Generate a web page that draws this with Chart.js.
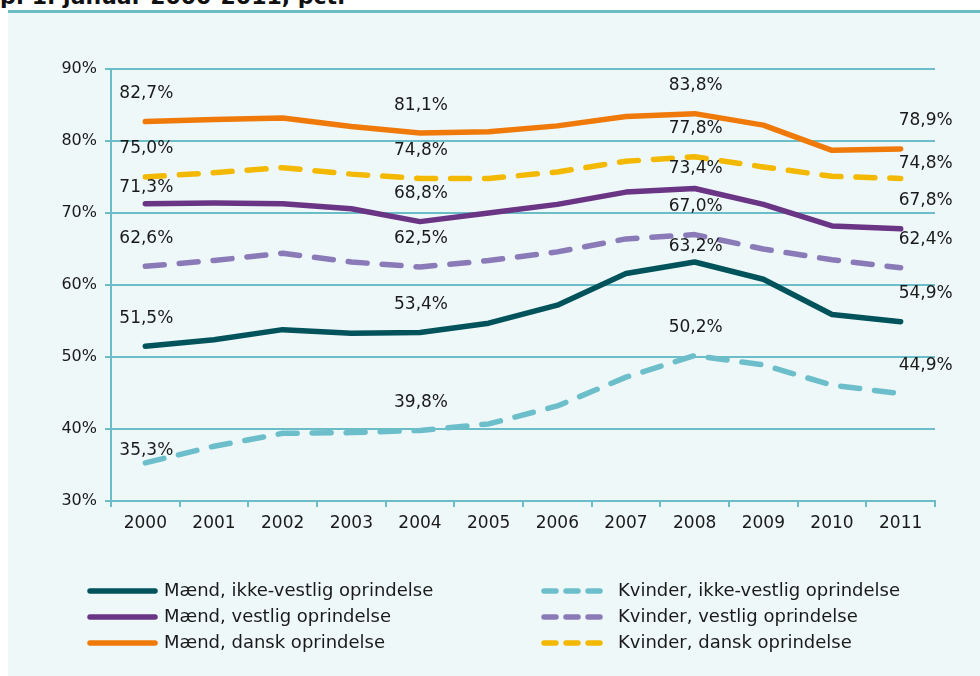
<!DOCTYPE html>
<html>
<head>
<meta charset="utf-8">
<script src="https://cdn.jsdelivr.net/npm/chart.js@4.4.1/dist/chart.umd.min.js"></script>
<style>
  body { margin: 0; background: #fff; width: 980px; height: 676px; overflow: hidden; position: relative; }
  #titel { position: absolute; left: 0; top: -14px; font: bold 22px "DejaVu Sans"; line-height: 22px; color: #111; white-space: nowrap; }
  #streg { position: absolute; left: 8px; top: 10px; width: 972px; height: 3px; background: #6bbec8; }
  #panel { position: absolute; left: 8px; top: 13px; width: 972px; height: 663px; background: #eef8f9; }
</style>
</head>
<body>
<div id="titel">p. 1. januar 2000-2011, pct.</div>
<div id="streg"></div>
<div id="panel"><canvas id="graf" width="972" height="663"></canvas></div>
<script>
// år og beskæftigelsesfrekvenser (pct.)
const aar = ["2000","2001","2002","2003","2004","2005","2006","2007","2008","2009","2010","2011"];
const maendIkkeVestlig   = [51.5, 52.4, 53.8, 53.3, 53.4, 54.7, 57.2, 61.6, 63.2, 60.8, 55.9, 54.9];
const maendVestlig       = [71.3, 71.4, 71.3, 70.6, 68.8, 70.0, 71.2, 72.9, 73.4, 71.2, 68.2, 67.8];
const maendDansk         = [82.7, 83.0, 83.2, 82.0, 81.1, 81.3, 82.1, 83.4, 83.8, 82.2, 78.7, 78.9];
const kvinderIkkeVestlig = [35.3, 37.6, 39.4, 39.5, 39.8, 40.7, 43.2, 47.2, 50.2, 48.9, 46.1, 44.9];
const kvinderVestlig     = [62.6, 63.4, 64.4, 63.2, 62.5, 63.4, 64.6, 66.4, 67.0, 65.0, 63.5, 62.4];
const kvinderDansk       = [75.0, 75.6, 76.3, 75.4, 74.8, 74.8, 75.7, 77.2, 77.8, 76.4, 75.1, 74.8];
const yMin = 30, yMax = 90, yStep = 10;
const aarMedLabel = ["2000", "2004", "2008", "2011"];

const teal = "#6bbec8";
const tekst = "#1a1a1a";
const fmt = v => v.toFixed(1).replace(".", ",") + "%";

function serie(label, data, farve, stiplet) {
  return {
    label: label,
    data: data,
    borderColor: farve,
    backgroundColor: farve,
    borderWidth: 5.5,
    borderDash: stiplet ? [19, 15] : [],
    borderCapStyle: "round",
    borderJoinStyle: "round",
    pointRadius: 0,
    tension: 0,
    fill: false
  };
}

// lidt forskudte labels hvor de ellers ville overlappe
const labelJuster = {
  "Kvinder, dansk oprindelse|2011": -15,
  "Mænd, vestlig oprindelse|2000": -16,
  "Mænd, vestlig oprindelse|2008": -20,
  "Mænd, ikke-vestlig oprindelse|2008": -15,
  "Kvinder, ikke-vestlig oprindelse|2000": -12
};

const dataLabels = {
  id: "dataLabels",
  afterDatasetsDraw(chart) {
    const ctx = chart.ctx;
    ctx.save();
    ctx.font = "17px 'DejaVu Sans'";
    ctx.fillStyle = tekst;
    ctx.textAlign = "center";
    ctx.textBaseline = "middle";
    chart.data.datasets.forEach((ds, di) => {
      const meta = chart.getDatasetMeta(di);
      aar.forEach((a, i) => {
        if (!aarMedLabel.includes(a)) return;
        const p = meta.data[i];
        const dy = labelJuster[ds.label + "|" + a] ?? -28;
        const dx = i === aar.length - 1 ? 25 : 1;
        ctx.fillText(fmt(ds.data[i]), p.x + dx, p.y + dy);
      });
    });
    ctx.restore();
  }
};

// forklaring i to kolonner: mænd til venstre, kvinder til højre
const forklaring = {
  id: "forklaring",
  afterDraw(chart) {
    const ctx = chart.ctx;
    ctx.save();
    ctx.font = "18px 'DejaVu Sans'";
    ctx.textBaseline = "middle";
    ctx.textAlign = "left";
    chart.data.datasets.forEach((ds, di) => {
      const kol = Math.floor(di / 3), rk = di % 3;
      const y = 578 + rk * 26;
      const x0 = kol === 0 ? 79 : 533;
      const x1 = kol === 0 ? 150 : 597;
      const tx = kol === 0 ? 156 : 610;
      ctx.strokeStyle = ds.borderColor;
      ctx.lineWidth = 5.5;
      ctx.lineCap = "round";
      ctx.setLineDash(ds.borderDash.length ? [12, 10] : []);
      ctx.beginPath();
      ctx.moveTo(x0 + 3, y);
      ctx.lineTo(x1 - 3, y);
      ctx.stroke();
      ctx.setLineDash([]);
      ctx.fillStyle = tekst;
      ctx.fillText(ds.label, tx, y);
    });
    ctx.restore();
  }
};

new Chart(document.getElementById("graf").getContext("2d"), {
  type: "line",
  data: {
    labels: aar,
    datasets: [
      serie("Mænd, ikke-vestlig oprindelse", maendIkkeVestlig, "#00535b", false),
      serie("Mænd, vestlig oprindelse", maendVestlig, "#6b3586", false),
      serie("Mænd, dansk oprindelse", maendDansk, "#ef7a0a", false),
      serie("Kvinder, ikke-vestlig oprindelse", kvinderIkkeVestlig, "#6cbfca", true),
      serie("Kvinder, vestlig oprindelse", kvinderVestlig, "#8a7bb8", true),
      serie("Kvinder, dansk oprindelse", kvinderDansk, "#f3b800", true)
    ]
  },
  options: {
    responsive: false,
    animation: false,
    layout: { padding: { top: 56, right: 45, left: 0, bottom: 0 } },
    plugins: { legend: { display: false }, tooltip: { enabled: false } },
    scales: {
      x: {
        offset: true,
        afterFit: s => { s.height = 175; },
        grid: { offset: true, drawOnChartArea: false, drawTicks: true, tickLength: 6, color: teal, lineWidth: 2 },
        border: { display: true, color: teal, width: 2 },
        ticks: { color: tekst, font: { family: "DejaVu Sans", size: 17 }, padding: 6, maxRotation: 0 }
      },
      y: {
        min: yMin,
        max: yMax,
        afterFit: s => { s.width = 103; },
        grid: { color: teal, lineWidth: 2, tickLength: 6 },
        border: { display: true, color: teal, width: 2 },
        ticks: {
          stepSize: yStep,
          color: tekst,
          font: { family: "DejaVu Sans", size: 16 },
          padding: 8,
          callback: v => v + "%"
        }
      }
    }
  },
  plugins: [dataLabels, forklaring]
});
</script>
</body>
</html>
